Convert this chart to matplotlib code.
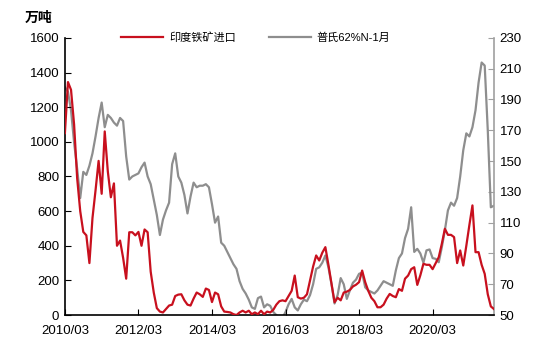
import matplotlib
matplotlib.use('Agg')
import matplotlib.pyplot as plt

plt.rcParams['font.family'] = ['Liberation Sans', 'Noto Sans CJK SC', 'DejaVu Sans']

# monthly data, 2010/03 .. 2021/11
india_imports = [
    1050, 1345, 1300, 1100, 790, 600, 480, 460, 300, 560,
    720, 890, 700, 1060, 830, 680, 760, 400, 430, 330,
    210, 478, 478, 460, 480, 400, 494, 478, 250, 130,
    40, 20, 15, 35, 55, 60, 110, 118, 120, 85,
    60, 55, 95, 130, 120, 105, 153, 145, 75, 130,
    120, 50, 20, 18, 15, 5, 0, 15, 25, 15,
    25, 5, 15, 5, 25, 5, 20, 15, 30, 60,
    80, 85, 80, 110, 140, 228, 103, 95, 100, 120,
    200, 280, 344, 315, 360, 392, 290, 180, 74, 100,
    85, 130, 135, 145, 165, 175, 190, 257, 190, 140,
    100, 80, 45, 45, 60, 95, 122, 110, 103, 150,
    140, 210, 228, 265, 276, 174, 230, 296, 290, 290,
    265, 300, 334, 411, 498, 463, 463, 450, 300, 373,
    286, 400, 520, 633, 363, 363, 290, 238, 120, 50,
    35,
]
platts_62 = [
    198, 195, 183, 162, 145, 126, 143, 141, 147, 155,
    166, 178, 188, 172, 180, 178, 175, 173, 178, 176,
    153, 138, 140, 141, 142, 146, 149, 140, 135, 125,
    115, 102, 112, 118, 123, 148, 155, 140, 136, 128,
    116, 127, 136, 133, 134, 134, 135, 133, 122, 110,
    114, 97, 95, 91, 87, 83, 80, 72, 67, 64,
    60, 55, 54, 61, 62, 55, 57, 56, 52, 50,
    48, 48, 52, 57, 60.5, 55, 53, 57, 60, 59,
    63, 70, 80, 81, 84, 88.7, 81, 70, 57.5, 63,
    74, 70, 60.5, 66, 71, 73, 76.8, 77.5, 68, 66,
    65, 64, 66, 69, 72, 71, 70, 69, 79, 87,
    90, 100, 106, 120, 91, 93, 90, 84, 92, 92.6,
    87, 86.5, 84.3, 94, 105, 118, 123, 121, 126, 140,
    157, 168, 166, 172, 183, 201, 214, 212, 170, 120,
    121,
]
tick_pos = [0, 24, 48, 72, 96, 120]
tick_labels = ['2010/03', '2012/03', '2014/03', '2016/03', '2018/03', '2020/03']

months = list(range(len(india_imports)))

fig = plt.figure(figsize=(5.5, 3.54), dpi=100)
ax = fig.add_axes([0.118, 0.110, 0.780, 0.783])
ax2 = ax.twinx()

red = '#C8101E'
gray = '#8E8E8E'

l1, = ax.plot(months, india_imports, color=red, lw=1.6, zorder=3)
l2, = ax2.plot(months, platts_62, color=gray, lw=1.6, zorder=2)
ax.set_zorder(ax2.get_zorder() + 1)
ax.patch.set_visible(False)

ax.set_xlim(0, 140)
ax.set_ylim(0, 1600)
ax.set_yticks(range(0, 1601, 200))
ax2.set_ylim(50, 230)
ax2.set_yticks(range(50, 231, 20))
ax.set_xticks(tick_pos)
ax.set_xticklabels(tick_labels)

for a in (ax, ax2):
    a.spines['top'].set_visible(False)
ax.spines['right'].set_visible(False)
ax2.spines['left'].set_visible(False)
ax2.spines['bottom'].set_visible(False)
ax2.spines['right'].set_color('#A0A0A0')
ax.spines['left'].set_linewidth(1.2)
ax.spines['bottom'].set_linewidth(1.2)
ax2.spines['right'].set_linewidth(1.2)

ax.tick_params(axis='both', direction='in', length=4, labelsize=9.5, pad=4)
ax.tick_params(axis='x', pad=7)
ax2.tick_params(axis='y', direction='in', length=4, labelsize=9.5, color='#A0A0A0', pad=4)

fig.text(0.045, 0.95, '万吨', fontsize=10, fontweight='bold', ha='left', va='center')

ax.legend([l1, l2], ['印度铁矿进口', '普氏62%N-1月'], loc='center', bbox_to_anchor=(0.445, 1.0),
          ncol=2, frameon=False, fontsize=8, handlelength=3.8, columnspacing=3.0,
          handletextpad=0.5)

fig.savefig('out.png', dpi=100)
